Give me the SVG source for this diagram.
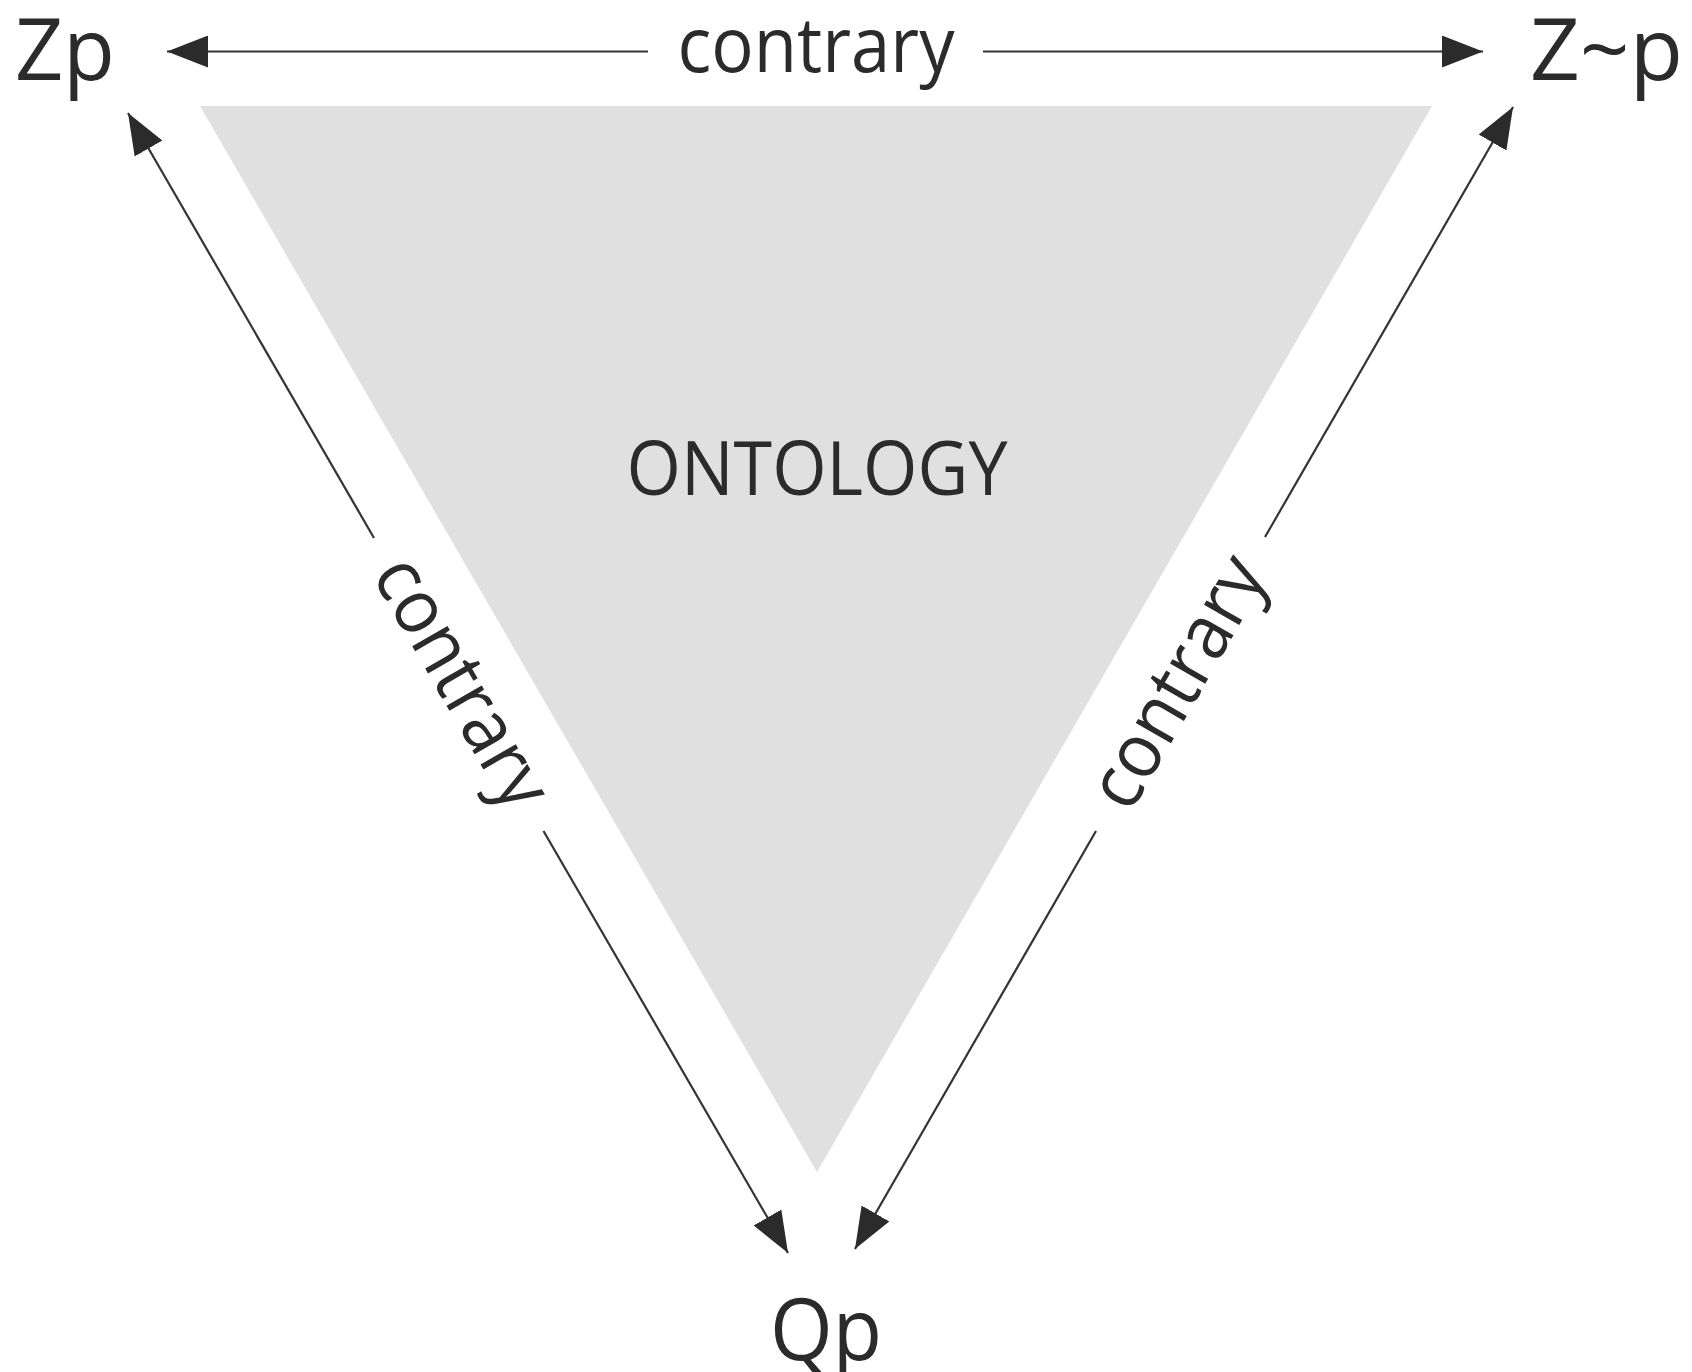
<svg xmlns="http://www.w3.org/2000/svg" width="1692" height="1372" viewBox="0 0 1692 1372">
<style>
.lbl{font-family:"Open Sans","Noto Sans","Liberation Sans",sans-serif;fill:#2b2b2b}
.node{font-size:86px}
.rel{font-size:76px}
.conn{stroke:#333;stroke-width:2.2;fill:none;marker-end:url(#ah)}
</style>
<defs>
<marker id="ah" markerUnits="userSpaceOnUse" viewBox="0 -16 41 32" refX="41" refY="0" markerWidth="41" markerHeight="32" orient="auto">
<path d="M0,-16 L41,0 L0,16 Z" fill="#2b2b2b"/>
</marker>
</defs>
<rect width="1692" height="1372" fill="#fff"/>
<g id="ontology">
<polygon points="200,106 1432,106 817,1172" fill="#e0e0e0"/>
<text class="lbl" x="817" y="495" font-size="75" text-anchor="middle" textLength="381" lengthAdjust="spacingAndGlyphs">ONTOLOGY</text>
</g>
<g id="node-zp"><text class="lbl node" x="15" y="80" textLength="100" lengthAdjust="spacingAndGlyphs">Zp</text></g>
<g id="node-znp"><text class="lbl node" x="1530" y="80" textLength="153" lengthAdjust="spacingAndGlyphs">Z~p</text></g>
<g id="node-qp"><text class="lbl node" x="770" y="1360" textLength="112" lengthAdjust="spacingAndGlyphs">Qp</text></g>
<g id="connectors">
<line class="conn" x1="648" y1="51.5" x2="167" y2="51.5"/>
<line class="conn" x1="983" y1="51.5" x2="1483" y2="51.5"/>
<line class="conn" x1="374" y1="538" x2="128" y2="113"/>
<line class="conn" x1="543.5" y1="831" x2="788" y2="1253"/>
<line class="conn" x1="1265" y1="537" x2="1513" y2="107"/>
<line class="conn" x1="1096" y1="831" x2="855" y2="1249"/>
<text class="lbl rel" x="816" y="72" text-anchor="middle" textLength="277" lengthAdjust="spacingAndGlyphs">contrary</text>
<text class="lbl rel" transform="translate(458.5,684.5) rotate(60)" x="0" y="21" text-anchor="middle" textLength="277" lengthAdjust="spacingAndGlyphs">contrary</text>
<text class="lbl rel" transform="translate(1181,684) rotate(-60)" x="0" y="21" text-anchor="middle" textLength="277" lengthAdjust="spacingAndGlyphs">contrary</text>
</g>
</svg>
